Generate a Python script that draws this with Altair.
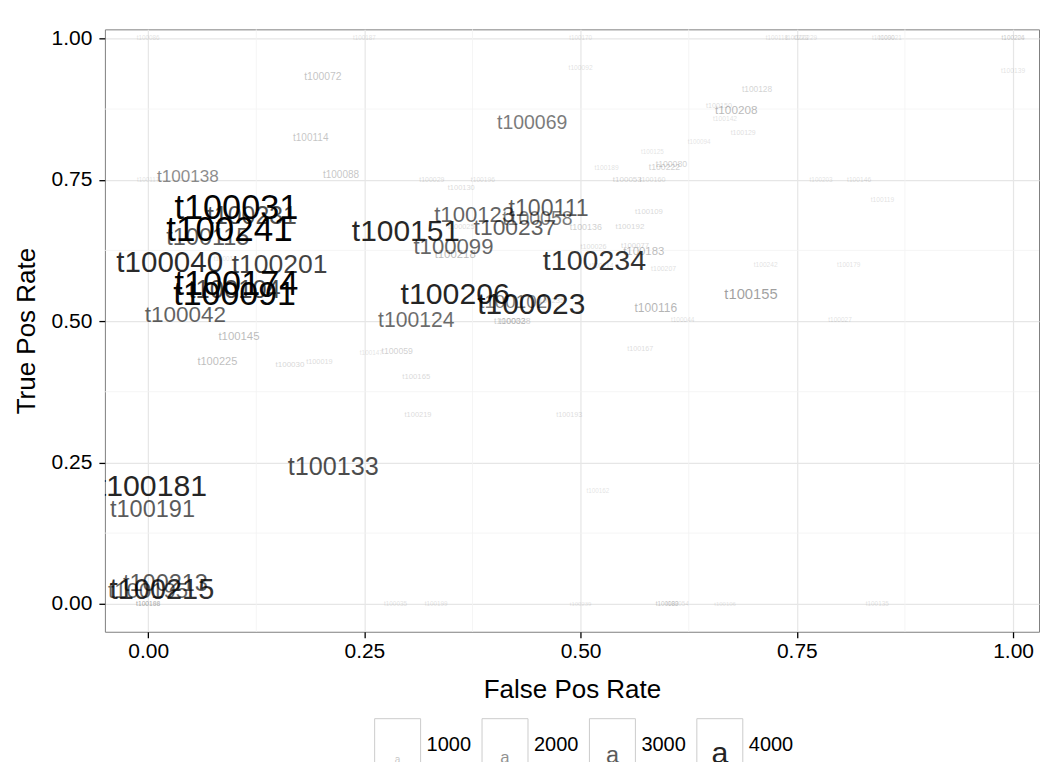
import altair as alt
import pandas as pd

labels = ["t100086","t100187","t100170","t100118","t100223","t100229","t100090","t100021","t100204","t100226",
          "t100072","t100092","t100139","t100128","t100208","t100150","t100142","t100129","t100094","t100114",
          "t100069","t100125","t100189","t100222","t100080","t100053","t100160","t100138","t100117","t100088",
          "t100029","t100196","t100130","t100203","t100146","t100119","t100242","t100179","t100155","t100027",
          "t100044","t100151","t100123","t100111","t100058","t100237","t100025","t100099","t100218","t100136",
          "t100192","t100109","t100026","t100077","t100183","t100234","t100214","t100207","t100206","t100023",
          "t100102","t100235","t100032","t100038","t100124","t100147","t100059","t100165","t100219","t100193",
          "t100116","t100167","t100031","t100241","t100231","t100115","t100040","t100201","t100012","t100174",
          "t100091","t100104","t100042","t100145","t100225","t100030","t100019","t100133","t100181","t100191",
          "t100213","t100215","t100195","t100166","t100188","t100198","t100035","t100199","t100162","t100239",
          "t100089","t100082","t100054","t100106","t100135"]
fpr = [0.000,0.250,0.500,0.727,0.750,0.760,0.850,0.858,1.000,1.000,
       0.202,0.500,1.000,0.704,0.680,0.660,0.667,0.688,0.637,0.188,
       0.444,0.583,0.530,0.597,0.605,0.554,0.583,0.046,0.000,0.223,
       0.328,0.387,0.362,0.778,0.822,0.849,0.714,0.810,0.697,0.800,
       0.618,0.298,0.377,0.463,0.450,0.424,0.362,0.353,0.355,0.506,
       0.557,0.579,0.515,0.563,0.573,0.516,0.524,0.596,0.355,0.443,
       0.422,0.465,0.418,0.424,0.310,0.258,0.288,0.310,0.312,0.487,
       0.587,0.569,0.102,0.094,0.120,0.069,0.025,0.152,0.089,0.102,
       0.100,0.100,0.043,0.105,0.080,0.164,0.198,0.214,0.005,0.005,
       0.020,0.016,0.000,0.000,0.000,0.000,0.286,0.333,0.520,0.500,
       0.600,0.600,0.612,0.667,0.843]
tpr = [1.000,1.000,1.000,1.000,1.000,1.000,1.000,1.000,1.000,1.000,
       0.931,0.947,0.942,0.911,0.873,0.881,0.857,0.832,0.816,0.823,
       0.850,0.799,0.770,0.772,0.777,0.749,0.749,0.754,0.750,0.758,
       0.749,0.749,0.735,0.749,0.749,0.714,0.600,0.600,0.546,0.502,
       0.502,0.657,0.687,0.698,0.680,0.664,0.666,0.631,0.617,0.666,
       0.666,0.693,0.631,0.633,0.622,0.606,0.597,0.592,0.546,0.528,
       0.534,0.535,0.500,0.500,0.500,0.443,0.447,0.401,0.334,0.334,
       0.523,0.450,0.698,0.661,0.684,0.647,0.602,0.599,0.610,0.564,
       0.546,0.555,0.511,0.472,0.428,0.422,0.428,0.242,0.207,0.166,
       0.035,0.025,0.022,0.000,0.000,0.000,0.000,0.000,0.200,0.000,
       0.000,0.000,0.000,0.000,0.000]
count = [450,450,450,450,450,450,450,450,450,450,
         1050,500,500,750,1250,580,500,540,450,1000,
         2400,450,500,800,800,700,580,2050,450,1000,
         540,500,620,450,500,500,500,480,1700,480,
         480,3950,2800,2950,2400,2900,600,2800,1200,830,
         700,660,580,660,1200,3750,500,540,4000,3950,
         2300,650,800,800,2650,450,800,660,620,580,
         1300,580,4600,4700,3200,3000,3900,3450,450,4600,
         4550,3300,2850,1200,1150,700,600,3250,4000,3000,
         3000,3800,2800,500,500,500,450,450,450,400,
         450,450,450,400,450]

legend_values = [1000, 2000, 3000, 4000]
major_ticks = [0.0, 0.25, 0.5, 0.75, 1.0]
minor_ticks = [0.125, 0.375, 0.625, 0.875]

FONT = "Liberation Sans"

df = pd.DataFrame({"label": labels, "fpr": fpr, "tpr": tpr, "n": count})
df = df.sort_values("n", kind="stable").reset_index(drop=True)

size_scale = alt.Scale(domain=[400, 4700], range=[6, 35], zero=False)
op_scale = alt.Scale(domain=[400, 4700], range=[0.1, 1.0], zero=False)
xs = alt.Scale(domain=[-0.05, 1.030], nice=False, zero=False)
ys = alt.Scale(domain=[-0.0495, 1.016], nice=False, zero=False)

axis_common = dict(values=major_ticks, format=".2f", grid=True, gridColor="#e6e6e6", gridWidth=1.2,
                   domain=False, ticks=True, tickColor="black", tickSize=6, tickWidth=1.3,
                   labelFontSize=21, labelColor="black", labelFont=FONT, labelFlush=False,
                   titleFontSize=26, titleFontWeight="normal", titleColor="black", titleFont=FONT)
x_axis = alt.Axis(title="False Pos Rate", labelPadding=3, titlePadding=15, **axis_common)
y_axis = alt.Axis(title="True Pos Rate", labelPadding=7, titlePadding=12, **axis_common)

minor_df = pd.DataFrame({"m": minor_ticks})
vminor = alt.Chart(minor_df).mark_rule(color="#f2f2f2", strokeWidth=0.8).encode(
    x=alt.X("m:Q", scale=xs, axis=x_axis))
hminor = alt.Chart(minor_df).mark_rule(color="#f2f2f2", strokeWidth=0.8).encode(
    y=alt.Y("m:Q", scale=ys, axis=y_axis))

text = alt.Chart(df).mark_text(font=FONT, color="black", clip=True, align="center", baseline="middle").encode(
    x=alt.X("fpr:Q", scale=xs, axis=x_axis),
    y=alt.Y("tpr:Q", scale=ys, axis=y_axis),
    text="label:N",
    size=alt.Size("n:Q", scale=size_scale, legend=None),
    opacity=alt.Opacity("n:Q", scale=op_scale, legend=None),
)

main = alt.layer(vminor, hminor, text).properties(
    width=935, height=603,
    view=alt.ViewBackground(stroke="#808080", strokeWidth=1, fill="white"))

leg_df = pd.DataFrame({"n": legend_values, "lab": [str(v) for v in legend_values]})
lx = alt.X("n:Q", scale=alt.Scale(domain=[1000, 4000], range=[293, 615.5]), axis=None)
boxes = alt.Chart(leg_df).mark_square(size=46 * 46, fill="white", stroke="#cccccc", strokeWidth=1,
                                      filled=True, opacity=1).encode(x=lx, y=alt.value(24))
glyphs = alt.Chart(leg_df).mark_text(text="a", font=FONT, color="black", baseline="alphabetic",
                                     align="center").encode(
    x=lx, y=alt.value(45),
    size=alt.Size("n:Q", scale=size_scale, legend=None),
    opacity=alt.Opacity("n:Q", scale=op_scale, legend=None))
leg_labels = alt.Chart(leg_df).mark_text(align="left", dx=29, fontSize=20, font=FONT, color="black",
                                         baseline="middle").encode(x=lx, y=alt.value(27), text="lab:N")
legend = alt.layer(boxes, glyphs, leg_labels).properties(
    width=935, height=48, view=alt.ViewBackground(strokeWidth=0))

chart = alt.vconcat(main, legend, spacing=13).resolve_scale(
    x="independent", y="independent"
).properties(
    padding={"left": 4, "top": 18, "right": 0, "bottom": 0}
).configure_view(strokeWidth=0)

chart.save("out.html", embed_options={"renderer": "svg", "actions": False})
